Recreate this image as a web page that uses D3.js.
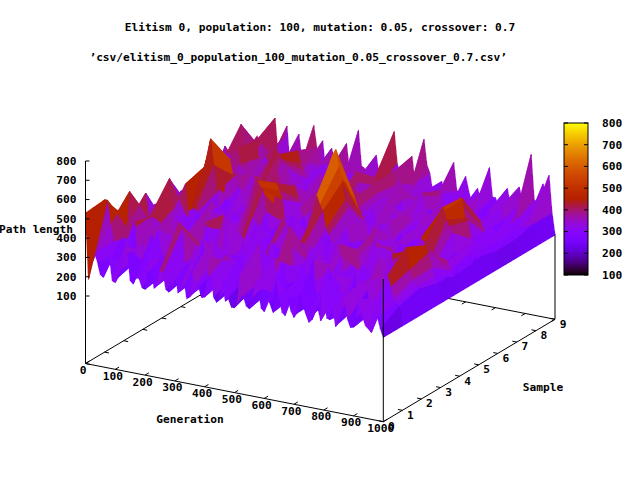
<!DOCTYPE html>
<html>
<head>
<meta charset="utf-8">
<script src="https://cdn.jsdelivr.net/npm/d3@7"></script>
<style>
  body { margin: 0; background: #fff; }
  svg text { font-family: "DejaVu Sans Mono", monospace; font-weight: bold; font-size: 11.2px; fill: #000; }
</style>
</head>
<body>
<div id="chart"></div>
<script>
/** Data: path length per generation (columns) for each sample run (rows) */
const generations = [0,10,20,30,40,50,60,70,80,90,100,110,120,130,140,150,160,170,180,190,
  200,210,220,230,240,250,260,270,280,290,300,310,320,330,340,350,360,370,380,390,
  400,410,420,430,440,450,460,470,480,490,500,510,520,530,540,550,560,570,580,590,
  600,610,620,630,640,650,660,670,680,690,700,710,720,730,740,750,760,770,780,790,
  800,810,820,830,840,850,860,870,880,890,900,910,920,930,940,950,960,970,980,990,1000];
const samples = [0,1,2,3,4,5,6,7,8,9];

const sample0 = [530,190,275,335,290,225,215,305,335,205, 200,230,275,350,410,225,210,245,245,200,
  195,290,350,210,230,305,305,215,205,260, 380,210,225,290,190,200,335,275,260,210,
  215,320,425,225,200,230,290,215,230,190, 190,215,365,260,210,200,260,335,320,215,
  200,275,245,205,395,290,215,200,290,230, 200,225,335,275,230,190,205,245,275,210,
  455,230,225,290,195,215,305,365,245,205, 210,260,365,275,230,215,200,320,290,230, 187];
const sample1 = [540,540,420,335,260,290,365,230,225,410, 455,260,290,350,245,210,410,275,440,305,
  215,335,320,230,275,500,470,260,230,320, 290,225,365,440,210,275,440,335,305,225,
  245,380,350,260,225,290,410,275,290,215, 230,335,470,290,260,225,305,410,225,275,
  380,290,275,225,210,320,350,410,260,305, 440,230,225,290,305,410,380,275,245,320,
  290,225,215,335,410,245,275,380,335,260, 230,305,290,360,400,430,380,320,300,290, 187];
const sample2 = [400,350,530,300,330,290,335,260,230,425, 425,290,290,225,225,395,470,305,335,260,
  260,365,380,275,225,335,305,440,425,230, 245,350,320,260,500,305,275,230,225,290,
  365,275,290,410,455,290,245,320,335,260, 410,290,225,245,290,425,515,305,275,225,
  320,260,230,425,410,305,290,245,225,320, 350,275,470,410,260,225,305,245,225,335,
  380,305,290,225,245,380,440,335,305,430, 470,290,260,380,470,520,410,360,330,320, 187];
const sample3 = [330,460,335,360,410,275,230,350,320,560, 275,365,225,290,380,260,260,335,335,230,
  230,320,440,365,305,245,245,425,350,260, 260,225,215,305,320,230,275,440,410,290,
  245,350,305,245,230,290,335,470,440,320, 260,230,245,365,350,275,290,230,225,335,
  410,305,305,230,260,365,335,260,275,230, 230,320,380,275,290,260,260,410,440,290,
  245,305,320,380,275,290,350,245,260,420, 430,290,320,410,410,470,440,365,320,290, 187];
const sample4 = [290,245,305,470,365,230,260,335,470,290, 245,350,335,290,290,225,230,410,380,275,
  260,335,320,275,245,365,350,290,275,440, 470,545,560,530,520,410,305,245,260,320,
  335,275,230,350,410,290,305,230,260,365, 380,480,540,500,470,380,350,290,275,320,
  230,290,410,335,305,245,245,290,335,275, 275,365,440,305,260,230,225,350,320,260,
  380,290,260,365,305,245,245,425,410,290, 335,290,275,230,230,305,335,290,260,290, 187];
const sample5 = [350,290,350,275,260,365,410,470,500,560, 650,520,380,290,275,350,335,260,245,365,
  410,335,305,260,260,320,350,425,440,335, 275,380,485,455,410,290,320,275,260,335,
  380,335,290,230,245,350,350,410,425,560, 620,690,720,640,560,470,430,335,305,275,
  260,335,380,290,335,275,275,380,230,305, 410,320,305,275,350,290,260,365,335,275,
  275,350,380,335,305,380,430,500,530,470, 440,410,305,290,260,335,350,320,275,305, 187];
const sample6 = [320,275,260,365,440,410,365,335,305,440, 485,410,410,350,335,305,275,365,425,335,
  350,305,260,335,380,440,470,380,305,275, 275,365,410,350,335,290,260,320,365,335,
  425,365,320,290,275,350,380,335,305,365, 470,425,410,365,335,305,275,350,380,290,
  320,290,260,365,425,380,350,305,260,290, 380,350,335,290,305,380,410,365,290,335,
  260,290,335,440,395,420,470,500,520,420, 410,320,290,305,335,290,260,305,290,275, 187];
const sample7 = [335,380,470,320,290,410,470,395,365,290, 275,320,350,395,425,350,335,440,335,515,
  480,460,440,425,335,290,260,365,395,335, 350,305,305,365,425,380,365,290,275,350,
  335,380,395,335,305,410,470,425,365,320, 335,365,425,380,350,305,275,335,380,320,
  470,365,305,275,260,320,365,410,425,350, 335,290,305,365,395,335,275,320,350,305,
  395,335,305,290,260,320,365,335,335,290, 260,305,320,290,275,320,365,305,290,275, 187];
const sample8 = [320,520,260,335,395,365,450,365,440,380, 335,275,260,290,320,365,380,335,275,260,
  440,380,350,305,290,335,380,290,260,290, 350,395,320,275,260,305,425,380,290,260,
  350,305,275,290,320,350,380,335,275,305, 350,380,425,365,320,290,260,320,380,305,
  290,335,350,290,275,290,320,350,380,275, 260,305,320,290,275,335,380,305,260,290,
  290,275,260,290,320,305,275,260,350,290, 275,260,245,290,320,290,260,275,290,300, 187];
const sample9 = [400,340,280,260,420,350,510,320,280,420, 480,280,270,340,450,320,310,270,260,510,
  400,320,440,280,280,410,350,260,270,390, 450,310,310,280,530,350,340,300,270,380,
  420,310,300,340,460,320,560,400,340,280, 280,380,450,310,320,280,550,420,380,280,
  270,310,350,280,260,340,460,320,310,280, 400,330,270,280,350,300,270,380,470,320,
  320,280,270,330,380,300,300,280,400,330, 320,380,580,350,340,310,440,350,490,300, 187];
const pathLength = [sample0, sample1, sample2, sample3, sample4, sample5, sample6, sample7, sample8, sample9];

/** Tick labels */
const genTicks = [0,100,200,300,400,500,600,700,800,900,1000];
const sampleTicks = [0,1,2,3,4,5,6,7,8,9];
const zTicks = [100,200,300,400,500,600,700,800];
const cbTicks = [100,200,300,400,500,600,700,800];

/** Vertical corner lines (gen, sample, height they reach) */
const cornerLines = [{gen: 1000, sample: 0, top: 490}, {gen: 1000, sample: 9, top: 190}];

const titleText = "Elitism 0, population: 100, mutation: 0.05, crossover: 0.7";
const keyText = "\u2019csv/elitism_0_population_100_mutation_0.05_crossover_0.7.csv\u2019";

/** Projection of the 3d box onto the page */
const w = 640, h = 480;
const origin = {x: 85.5, y: 363.5};
const genVec = {x: 297.8, y: 58.2};
const sampleVec = {x: 171.7, y: -102.4};
const zBase = -250;
const cosT = 0.34, sinT = Math.sqrt(1 - cosT * cosT);

const gScale = d3.scaleLinear().domain([0, 1000]).range([0, 1]);
const sScale = d3.scaleLinear().domain([0, 9]).range([0, 1]);
const zScale = d3.scaleLinear().domain([zBase, 800]).range([0, 202.5]);

function project(g, s, z) {
  const a = gScale(g), b = sScale(s);
  return [origin.x + a * genVec.x + b * sampleVec.x,
          origin.y + a * genVec.y + b * sampleVec.y - zScale(z)];
}

// depth toward the viewer, used to paint far quads first
function depth(g, s, z) {
  const a = gScale(g), b = sScale(s);
  const fwd = (a * genVec.y + b * sampleVec.y) / cosT;
  const up = zScale(z) / sinT;
  return fwd * sinT + up * cosT;
}

/** gnuplot default palette, rgbformulae 7,5,15 */
const cbScale = d3.scaleLinear().domain([100, 800]).range([0, 1]).clamp(true);
function palette(v) {
  const x = cbScale(v);
  return d3.rgb(255 * Math.sqrt(x), 255 * x * x * x, 255 * Math.max(0, Math.sin(2 * Math.PI * x))).formatHex();
}

const svg = d3.select("#chart")
  .append("svg")
  .attr("width", w)
  .attr("height", h)
;

const line = d3.line();

/** Base frame */
const baseCorners = [[0, 0], [1000, 0], [1000, 9], [0, 9], [0, 0]];
svg.append("path")
  .attr("d", line(baseCorners.map(c => project(c[0], c[1], zBase))))
  .attr("fill", "none")
  .attr("stroke", "#000")
  .attr("stroke-width", 1)
;

// generation ticks on front edge and mirrored on back edge
svg.append("g").selectAll("path")
  .data(genTicks)
  .join("path")
  .attr("d", g => line([project(g, 0, zBase), project(g, 0.2, zBase)]) + line([project(g, 9, zBase), project(g, 8.8, zBase)]))
  .attr("stroke", "#000")
;

// sample ticks on right edge and mirrored on left edge
svg.append("g").selectAll("path")
  .data(sampleTicks)
  .join("path")
  .attr("d", s => line([project(1000, s, zBase), project(985, s, zBase)]) + line([project(0, s, zBase), project(15, s, zBase)]))
  .attr("stroke", "#000")
;

/** Surface quads, sorted back to front */
const quads = [];
for (let si = 0; si < samples.length - 1; si++) {
  for (let gi = 0; gi < generations.length - 1; gi++) {
    const pts = [[gi, si], [gi + 1, si], [gi + 1, si + 1], [gi, si + 1]]
      .map(([a, b]) => ({g: generations[a], s: samples[b], z: pathLength[b][a]}));
    const zMean = d3.mean(pts, p => p.z);
    quads.push({
      pts: pts.map(p => project(p.g, p.s, p.z)),
      color: palette(zMean),
      depth: d3.mean(pts, p => depth(p.g, p.s, p.z))
    });
  }
}
quads.sort((a, b) => a.depth - b.depth);

svg.append("g")
  .attr("id", "surface")
  .attr("shape-rendering", "crispEdges")
  .selectAll("path")
  .data(quads)
  .join("path")
  .attr("d", d => line(d.pts) + "Z")
  .attr("fill", d => d.color)
  .attr("stroke", d => d.color)
  .attr("stroke-width", 0.8)
  .attr("stroke-linejoin", "round")
;

/** Corner lines drawn over the surface */
svg.append("g").selectAll("path")
  .data(cornerLines)
  .join("path")
  .attr("d", d => line([project(d.gen, d.sample, zBase), project(d.gen, d.sample, d.top)]))
  .attr("stroke", "#000")
;

/** Z axis */
const zAxis = svg.append("g").attr("id", "z-axis");
zAxis.append("path")
  .attr("d", line([project(0, 0, zBase), project(0, 0, 800)]))
  .attr("stroke", "#000")
;
zAxis.selectAll("path.tick")
  .data(zTicks)
  .join("path")
  .attr("class", "tick")
  .attr("d", z => { const p = project(0, 0, z); return line([p, [p[0] + 4, p[1]]]); })
  .attr("stroke", "#000")
;
zAxis.selectAll("text")
  .data(zTicks)
  .join("text")
  .attr("x", z => project(0, 0, z)[0] - 9)
  .attr("y", z => project(0, 0, z)[1])
  .attr("dy", "0.35em")
  .attr("text-anchor", "end")
  .text(d => d)
;

/** Tick labels on the base */
svg.append("g").selectAll("text")
  .data(genTicks)
  .join("text")
  .attr("x", g => project(g, 0, zBase)[0] - 2.5)
  .attr("y", g => project(g, 0, zBase)[1] + 6.5)
  .attr("dy", "0.35em")
  .attr("text-anchor", "middle")
  .text(d => d)
;
svg.append("g").selectAll("text")
  .data(sampleTicks)
  .join("text")
  .attr("x", s => project(1000, s, zBase)[0] + 8)
  .attr("y", s => project(1000, s, zBase)[1] + 4.5)
  .attr("dy", "0.35em")
  .attr("text-anchor", "middle")
  .text(d => d)
;

/** Axis titles, plot title and key entry */
const titles = [
  {text: "Generation", x: 190, y: 419, anchor: "middle"},
  {text: "Sample", x: 543, y: 387, anchor: "middle"},
  {text: "Path length", x: 36, y: 229, anchor: "middle"},
  {text: titleText, x: 320, y: 27, anchor: "middle"},
  {text: keyText, x: 507, y: 57, anchor: "end"}
];
svg.append("g").selectAll("text")
  .data(titles)
  .join("text")
  .attr("x", d => d.x)
  .attr("y", d => d.y)
  .attr("dy", "0.35em")
  .attr("text-anchor", d => d.anchor)
  .text(d => d.text)
;

/** Colour box */
const cbY = d3.scaleLinear().domain([100, 800]).range([275, 123]);
const cbX = [564, 588];

const grad = svg.append("defs")
  .append("linearGradient")
  .attr("id", "cb-grad")
  .attr("x1", 0).attr("y1", 1).attr("x2", 0).attr("y2", 0)
;
grad.selectAll("stop")
  .data(d3.range(0, 1.0001, 0.02))
  .join("stop")
  .attr("offset", t => t)
  .attr("stop-color", t => palette(100 + t * 700))
;

const cb = svg.append("g").attr("id", "colorbox");
cb.append("rect")
  .attr("x", cbX[0])
  .attr("y", cbY(800))
  .attr("width", cbX[1] - cbX[0])
  .attr("height", cbY(100) - cbY(800))
  .attr("fill", "url(#cb-grad)")
  .attr("stroke", "#000")
;
cb.selectAll("path")
  .data(cbTicks)
  .join("path")
  .attr("d", v => line([[cbX[0], cbY(v)], [cbX[0] + 4, cbY(v)]]) + line([[cbX[1] - 4, cbY(v)], [cbX[1], cbY(v)]]))
  .attr("stroke", "#000")
;
cb.selectAll("text")
  .data(cbTicks)
  .join("text")
  .attr("x", 602)
  .attr("y", v => cbY(v))
  .attr("dy", "0.35em")
  .text(d => d)
;
</script>
</body>
</html>
